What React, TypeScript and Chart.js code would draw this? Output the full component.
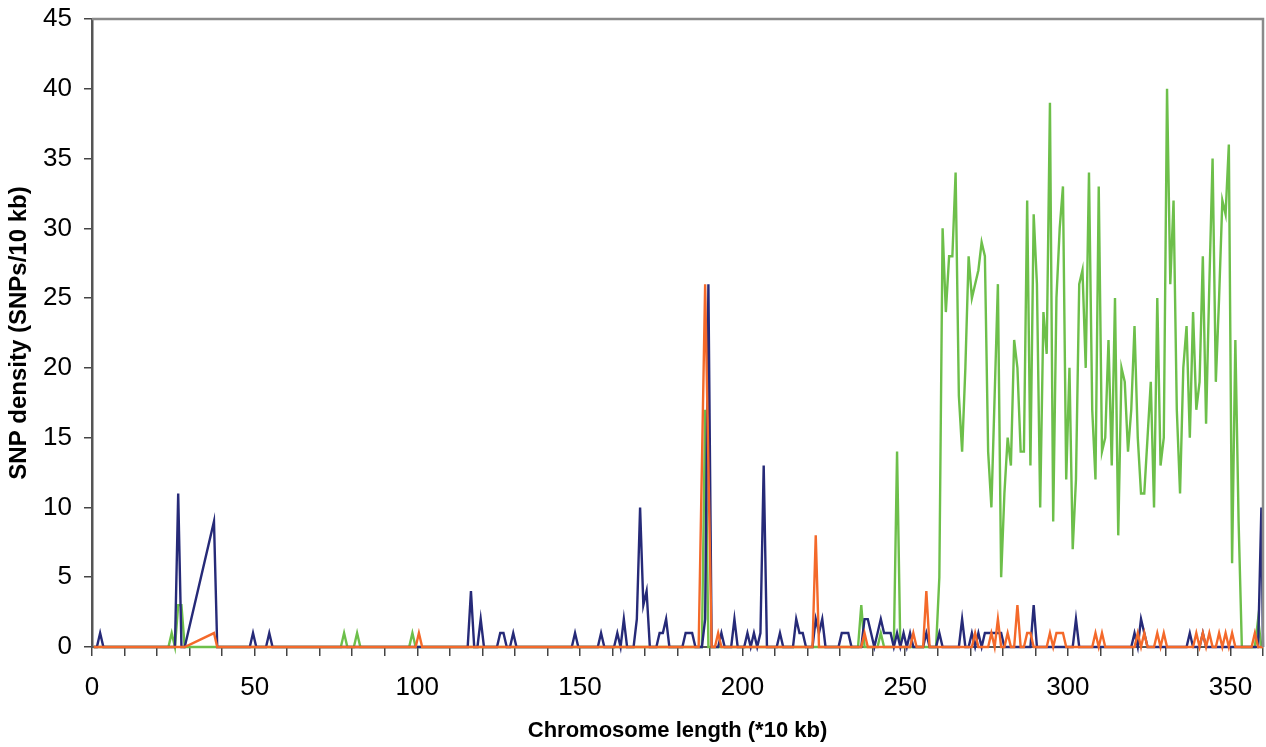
import React, { useEffect, useRef } from 'react';
import { Chart, registerables } from 'chart.js';

Chart.register(...registerables);

// [position (*10 kb), SNP density] vertices of each profile
const navyPoints: [number, number][] = [
  [0.5, 0], [1.5, 0], [2.5, 1], [3.5, 0], [25.5, 0], [26.5, 11], [27.5, 0], [28.5, 0], [37.5, 9], [38.5, 0],
  [48.5, 0], [49.5, 1], [50.5, 0], [53.5, 0], [54.5, 1], [55.5, 0],
  [115.5, 0], [116.5, 4], [117.5, 0], [118.5, 0], [119.5, 2], [120.5, 0],
  [124.5, 0], [125.5, 1], [126.5, 1], [127.5, 0], [128.5, 0], [129.5, 1], [130.5, 0],
  [147.5, 0], [148.5, 1], [149.5, 0], [155.5, 0], [156.5, 1], [157.5, 0],
  [160.5, 0], [161.5, 1], [162.5, 0], [163.5, 2], [164.5, 0],
  [166.5, 0], [167.5, 2], [168.5, 10], [169.5, 3], [170.5, 4], [171.5, 0],
  [173.5, 0], [174.5, 1], [175.5, 1], [176.5, 2], [177.5, 0],
  [181.5, 0], [182.5, 1], [183.5, 1], [184.5, 1], [185.5, 0],
  [187.5, 0], [188.5, 2], [189.5, 26], [190.5, 0],
  [192.5, 0], [193.5, 1], [194.5, 0], [196.5, 0], [197.5, 2], [198.5, 0],
  [200.5, 0], [201.5, 1], [202.5, 0], [203.5, 1], [204.5, 0], [205.5, 1], [206.5, 13], [207.5, 0],
  [210.5, 0], [211.5, 1], [212.5, 0],
  [215.5, 0], [216.5, 2], [217.5, 1], [218.5, 1], [219.5, 0],
  [221.5, 0], [222.5, 2], [223.5, 1], [224.5, 2], [225.5, 0],
  [229.5, 0], [230.5, 1], [231.5, 1], [232.5, 1], [233.5, 0],
  [236.5, 0], [237.5, 2], [238.5, 2], [239.5, 1], [240.5, 0], [241.5, 1], [242.5, 2], [243.5, 1],
  [244.5, 1], [245.5, 1], [246.5, 0], [247.5, 1], [248.5, 0], [249.5, 1], [250.5, 0], [251.5, 1], [252.5, 0],
  [255.5, 0], [256.5, 1], [257.5, 0], [259.5, 0], [260.5, 1], [261.5, 0],
  [266.5, 0], [267.5, 2], [268.5, 0], [269.5, 0], [270.5, 1], [271.5, 0], [272.5, 1], [273.5, 0],
  [274.5, 1], [275.5, 1], [276.5, 1], [277.5, 1], [278.5, 1], [279.5, 1], [280.5, 0],
  [288.5, 0], [289.5, 3], [290.5, 0], [301.5, 0], [302.5, 2], [303.5, 0],
  [319.5, 0], [320.5, 1], [321.5, 0], [322.5, 2], [323.5, 1], [324.5, 0],
  [336.5, 0], [337.5, 1], [338.5, 0], [340.5, 0], [341.5, 1], [342.5, 0],
  [357.5, 0], [358.5, 0], [359.5, 10], [360, 0],
];

const orangePoints: [number, number][] = [
  [0.5, 0], [28.5, 0], [37.5, 1], [38.5, 0], [99.5, 0], [100.5, 1], [101.5, 0],
  [186.5, 0], [188.5, 26], [190.5, 0], [191.5, 0], [192.5, 1], [193.5, 0],
  [221.5, 0], [222.5, 8], [223.5, 0], [236.5, 0], [237.5, 1], [238.5, 0],
  [251.5, 0], [252.5, 1], [253.5, 0], [255.5, 0], [256.5, 4], [257.5, 0],
  [270.5, 0], [271.5, 1], [272.5, 0], [275.5, 0], [276.5, 1], [277.5, 0], [278.5, 2], [279.5, 0],
  [280.5, 0], [281.5, 1], [282.5, 0], [283.5, 0], [284.5, 3], [285.5, 0], [286.5, 0], [287.5, 1], [288.5, 1], [289.5, 0],
  [293.5, 0], [294.5, 1], [295.5, 0], [296.5, 1], [297.5, 1], [298.5, 1], [299.5, 0],
  [307.5, 0], [308.5, 1], [309.5, 0], [310.5, 1], [311.5, 0],
  [320.5, 0], [321.5, 1], [322.5, 0], [323.5, 1], [324.5, 0],
  [326.5, 0], [327.5, 1], [328.5, 0], [329.5, 1], [330.5, 0],
  [338.5, 0], [339.5, 1], [340.5, 0], [341.5, 1], [342.5, 0], [343.5, 1], [344.5, 0],
  [345.5, 0], [346.5, 1], [347.5, 0], [348.5, 1], [349.5, 0], [350.5, 1], [351.5, 0],
  [356.5, 0], [357.5, 1], [358.5, 0], [360, 0],
];

const greenPoints: [number, number][] = [
  [0.5, 0], [23.5, 0], [24.5, 1], [25.5, 0], [26.5, 3], [27.5, 3], [28.5, 0], [38.5, 0],
  [76.5, 0], [77.5, 1], [78.5, 0], [80.5, 0], [81.5, 1], [82.5, 0], [97.5, 0], [98.5, 1], [99.5, 0],
  [187.5, 0], [188.5, 17], [189.5, 0],
  [235.5, 0], [236.5, 3], [237.5, 0], [241.5, 0], [242.5, 1], [243.5, 0], [246.5, 0], [247.5, 14], [248.5, 0],
  [259.5, 0], [260.5, 5], [261.5, 30], [262.5, 24], [263.5, 28], [264.5, 28], [265.5, 34], [266.5, 18],
  [267.5, 14], [268.5, 20], [269.5, 28], [270.5, 25], [271.5, 26], [272.5, 27], [273.5, 29], [274.5, 28],
  [275.5, 14], [276.5, 10], [277.5, 18], [278.5, 26], [279.5, 5], [280.5, 11], [281.5, 15], [282.5, 13],
  [283.5, 22], [284.5, 20], [285.5, 14], [286.5, 14], [287.5, 32], [288.5, 13], [289.5, 31], [290.5, 26],
  [291.5, 10], [292.5, 24], [293.5, 21], [294.5, 39], [295.5, 9], [296.5, 25], [297.5, 30], [298.5, 33],
  [299.5, 12], [300.5, 20], [301.5, 7], [302.5, 12], [303.5, 26], [304.5, 27], [305.5, 20], [306.5, 34],
  [307.5, 17], [308.5, 12], [309.5, 33], [310.5, 14], [311.5, 15], [312.5, 22], [313.5, 13], [314.5, 25],
  [315.5, 8], [316.5, 20], [317.5, 19], [318.5, 14], [319.5, 17], [320.5, 23], [321.5, 15], [322.5, 11],
  [323.5, 11], [324.5, 15], [325.5, 19], [326.5, 10], [327.5, 25], [328.5, 13], [329.5, 15], [330.5, 40],
  [331.5, 26], [332.5, 32], [333.5, 17], [334.5, 11], [335.5, 20], [336.5, 23], [337.5, 15], [338.5, 24],
  [339.5, 17], [340.5, 19], [341.5, 28], [342.5, 16], [343.5, 26], [344.5, 35], [345.5, 19], [346.5, 25],
  [347.5, 32], [348.5, 31], [349.5, 36], [350.5, 6], [351.5, 22], [352.5, 9], [353.5, 0],
  [357.5, 0], [358.5, 2], [359.5, 0], [360, 0],
];

const xTickLabels = ['0', '50', '100', '150', '200', '250', '300', '350'];

const NAVY = '#262a78';
const ORANGE = '#f4692a';
const GREEN = '#6dbf4a';
const FONT = "'Liberation Sans', Arial, Helvetica, sans-serif";

const noEdgePadding = (s: any) => {
  s.paddingLeft = 0;
  s.paddingRight = 0;
  s.paddingTop = 0;
  s.paddingBottom = 0;
};

export default function App() {
  const ref = useRef<HTMLCanvasElement>(null);

  useEffect(() => {
    document.body.style.margin = '0';
    const toPts = (p: [number, number][]) => p.map(([x, y]) => ({ x, y }));
    const framePlugin = {
      id: 'frame',
      afterDraw(chart: any) {
        const { ctx, chartArea } = chart;
        ctx.save();
        ctx.strokeStyle = '#8a8a8a';
        ctx.lineWidth = 2.5;
        ctx.beginPath();
        ctx.moveTo(chartArea.left, chartArea.top);
        ctx.lineTo(chartArea.right, chartArea.top);
        ctx.lineTo(chartArea.right, chartArea.bottom);
        ctx.stroke();
        ctx.restore();
      },
    };
    const common = { pointRadius: 0, borderWidth: 2.4, tension: 0, fill: false, clip: false as any };
    const chart = new Chart(ref.current as HTMLCanvasElement, {
      type: 'line',
      data: {
        datasets: [
          { label: 'orange', data: toPts(orangePoints), borderColor: ORANGE, order: 0, ...common },
          { label: 'navy', data: toPts(navyPoints), borderColor: NAVY, order: 1, ...common },
          { label: 'green', data: toPts(greenPoints), borderColor: GREEN, order: 2, ...common },
        ],
      },
      options: {
        animation: false,
        responsive: false,
        maintainAspectRatio: false,
        layout: { padding: { top: 19, right: 3, left: 0, bottom: 0 } },
        plugins: { legend: { display: false }, tooltip: { enabled: false } },
        scales: {
          x: {
            type: 'linear',
            min: 0,
            max: 360,
            ticks: {
              stepSize: 10,
              autoSkip: false,
              maxRotation: 0,
              minRotation: 0,
              padding: 16,
              color: '#000',
              font: { family: FONT, size: 26 },
              callback: (v: any) => (xTickLabels.includes(String(v)) ? String(v) : ''),
            },
            grid: { drawOnChartArea: false, drawTicks: true, tickLength: 9, color: '#444', lineWidth: 1.5 },
            border: { display: true, color: '#555', width: 2 },
            title: {
              display: true,
              text: 'Chromosome length (*10 kb)',
              color: '#000',
              font: { family: FONT, size: 22, weight: 'bold' },
              padding: { top: 0, bottom: 3 },
            },
            afterFit: (s: any) => { s.height = 100; noEdgePadding(s); },
          },
          y: {
            min: 0,
            max: 45,
            ticks: {
              stepSize: 5,
              padding: 12,
              color: '#000',
              font: { family: FONT, size: 26 },
            },
            grid: { drawOnChartArea: false, drawTicks: true, tickLength: 8, color: '#444', lineWidth: 1.5 },
            border: { display: true, color: '#555', width: 2.5 },
            title: {
              display: true,
              text: 'SNP density (SNPs/10 kb)',
              color: '#000',
              font: { family: FONT, size: 24, weight: 'bold' },
              padding: { top: 5, bottom: 0 },
            },
            afterFit: (s: any) => { s.width = 92; noEdgePadding(s); },
          },
        },
      },
      plugins: [framePlugin],
    } as any);
    return () => chart.destroy();
  }, []);

  return <canvas ref={ref} width={1266} height={747} style={{ display: 'block' }} />;
}
